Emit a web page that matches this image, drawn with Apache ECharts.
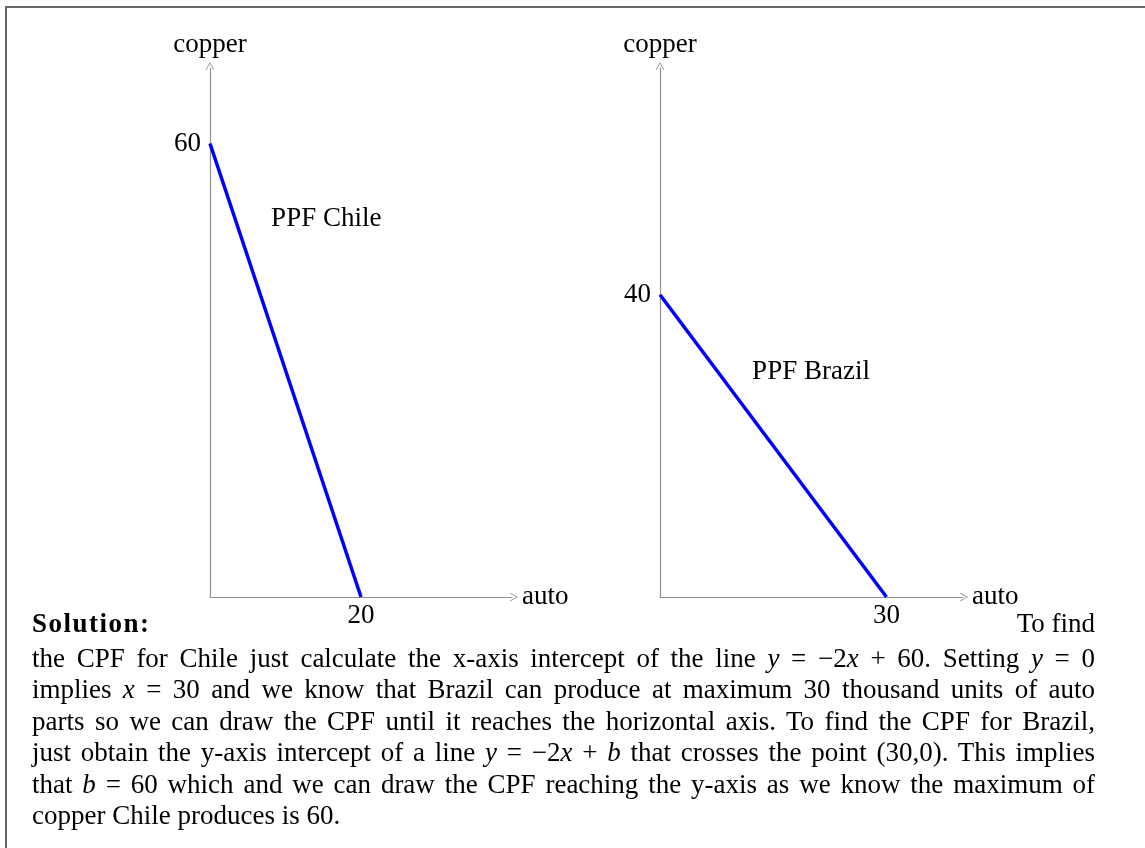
<!DOCTYPE html>
<html>
<head>
<meta charset="utf-8">
<script src="https://cdn.jsdelivr.net/npm/echarts@6/dist/echarts.min.js"></script>
<style>
  html, body { margin: 0; padding: 0; background: #fff; overflow: hidden; }
  #page { position: relative; width: 1145px; height: 848px; overflow: hidden; }
  #frame { position: absolute; left: 5px; top: 6px; width: 1300px; height: 1000px; border: 2px solid #666; }
  #chart { position: absolute; left: 0; top: 0; width: 1145px; height: 848px; }
  #text { position: absolute; left: 32px; top: 608px; width: 1063px;
          font-family: 'Liberation Serif', serif; font-size: 27px; line-height: 31.5px; color: #000; }
  #text .ln { text-align: justify; text-align-last: justify; white-space: nowrap; }
  #text .last { text-align: left; text-align-last: left; }
  #text .first { display: flex; justify-content: space-between; }
  #text b { letter-spacing: 1.5px; }
  #text i { font-style: italic; }
</style>
</head>
<body>
<div id="page">
  <div id="frame"></div>
  <div id="chart"></div>
  <div id="text">
    <div class="first"><b>Solution:</b><span>To find</span></div>
    <div class="ln" style="margin-top:3px">the CPF for Chile just calculate the x-axis intercept of the line <i>y</i> = &minus;2<i>x</i> + 60. Setting <i>y</i> = 0</div>
    <div class="ln">implies <i>x</i> = 30 and we know that Brazil can produce at maximum 30 thousand units of auto</div>
    <div class="ln">parts so we can draw the CPF until it reaches the horizontal axis. To find the CPF for Brazil,</div>
    <div class="ln">just obtain the y-axis intercept of a line <i>y</i> = &minus;2<i>x</i> + <i>b</i> that crosses the point (30,0). This implies</div>
    <div class="ln">that <i>b</i> = 60 which and we can draw the CPF reaching the y-axis as we know the maximum of</div>
    <div class="ln last">copper Chile produces is 60.</div>
  </div>
</div>
<script>
// 数据
var autoMax = 40;
var copperMax = 70;
var chileAuto = [0, 20];
var chileCopper = [60, 0];
var brazilAuto = [0, 30];
var brazilCopper = [40, 0];
var chileTicksX = [20];
var chileTicksY = [60];
var brazilTicksX = [30];
var brazilTicksY = [40];
var chileLabelAt = [15.4, 50];
var brazilLabelAt = [20, 29.8];

var font = 'Liberation Serif';
var fontSize = 27;
var axisColor = '#909090';
// 空心箭头
var arrow = 'path://M0,9 L5,0 L10,9 L9.2,9.6 L5,1.8 L0.8,9.6 Z';

function pairs(xs, ys) {
  var out = [];
  for (var i = 0; i < xs.length; i++) {
    out.push([xs[i], ys[i]]);
  }
  return out;
}

function xAxisOf(idx, ticks) {
  return {
    type: 'value', gridIndex: idx, min: 0, max: autoMax,
    name: 'auto', nameLocation: 'end', nameGap: 10,
    nameTextStyle: { fontFamily: font, fontSize: fontSize, color: '#000', align: 'left', verticalAlign: 'middle' },
    splitLine: { show: false },
    axisTick: { show: false },
    axisLine: { show: true, lineStyle: { color: axisColor, width: 1.2 }, symbol: ['none', arrow], symbolSize: [9, 8], symbolOffset: [0, 2] },
    axisLabel: { customValues: ticks, fontFamily: font, fontSize: fontSize, color: '#000', margin: 5 }
  };
}

function yAxisOf(idx, ticks) {
  return {
    type: 'value', gridIndex: idx, min: 0, max: copperMax,
    name: 'copper', nameLocation: 'end', nameGap: 10,
    nameTextStyle: { fontFamily: font, fontSize: fontSize, color: '#000', align: 'center' },
    splitLine: { show: false },
    axisTick: { show: false },
    axisLine: { show: true, lineStyle: { color: axisColor, width: 1.2 }, symbol: ['none', arrow], symbolSize: [9, 8], symbolOffset: [0, 2] },
    axisLabel: { customValues: ticks, fontFamily: font, fontSize: fontSize, color: '#000', margin: 9 }
  };
}

function ppf(idx, name, data, labelAt) {
  return {
    name: name, type: 'line', xAxisIndex: idx, yAxisIndex: idx,
    data: data, showSymbol: false, symbol: 'none',
    lineStyle: { color: '#0000ff', width: 3.5 },
    markPoint: {
      symbol: 'circle', symbolSize: 0,
      label: { show: true, position: 'inside', formatter: name, fontFamily: font, fontSize: fontSize, color: '#000' },
      data: [{ coord: labelAt }]
    },
    silent: true
  };
}

var myChart = echarts.init(document.getElementById('chart'), null, { renderer: 'canvas' });
myChart.setOption({
  animation: false,
  grid: [
    { left: 210, top: 68, width: 302, bottom: 251 },
    { left: 660, top: 68, width: 302, bottom: 251 }
  ],
  xAxis: [xAxisOf(0, chileTicksX), xAxisOf(1, brazilTicksX)],
  yAxis: [yAxisOf(0, chileTicksY), yAxisOf(1, brazilTicksY)],
  series: [
    ppf(0, 'PPF Chile', pairs(chileAuto, chileCopper), chileLabelAt),
    ppf(1, 'PPF Brazil', pairs(brazilAuto, brazilCopper), brazilLabelAt)
  ]
});
</script>
</body>
</html>
